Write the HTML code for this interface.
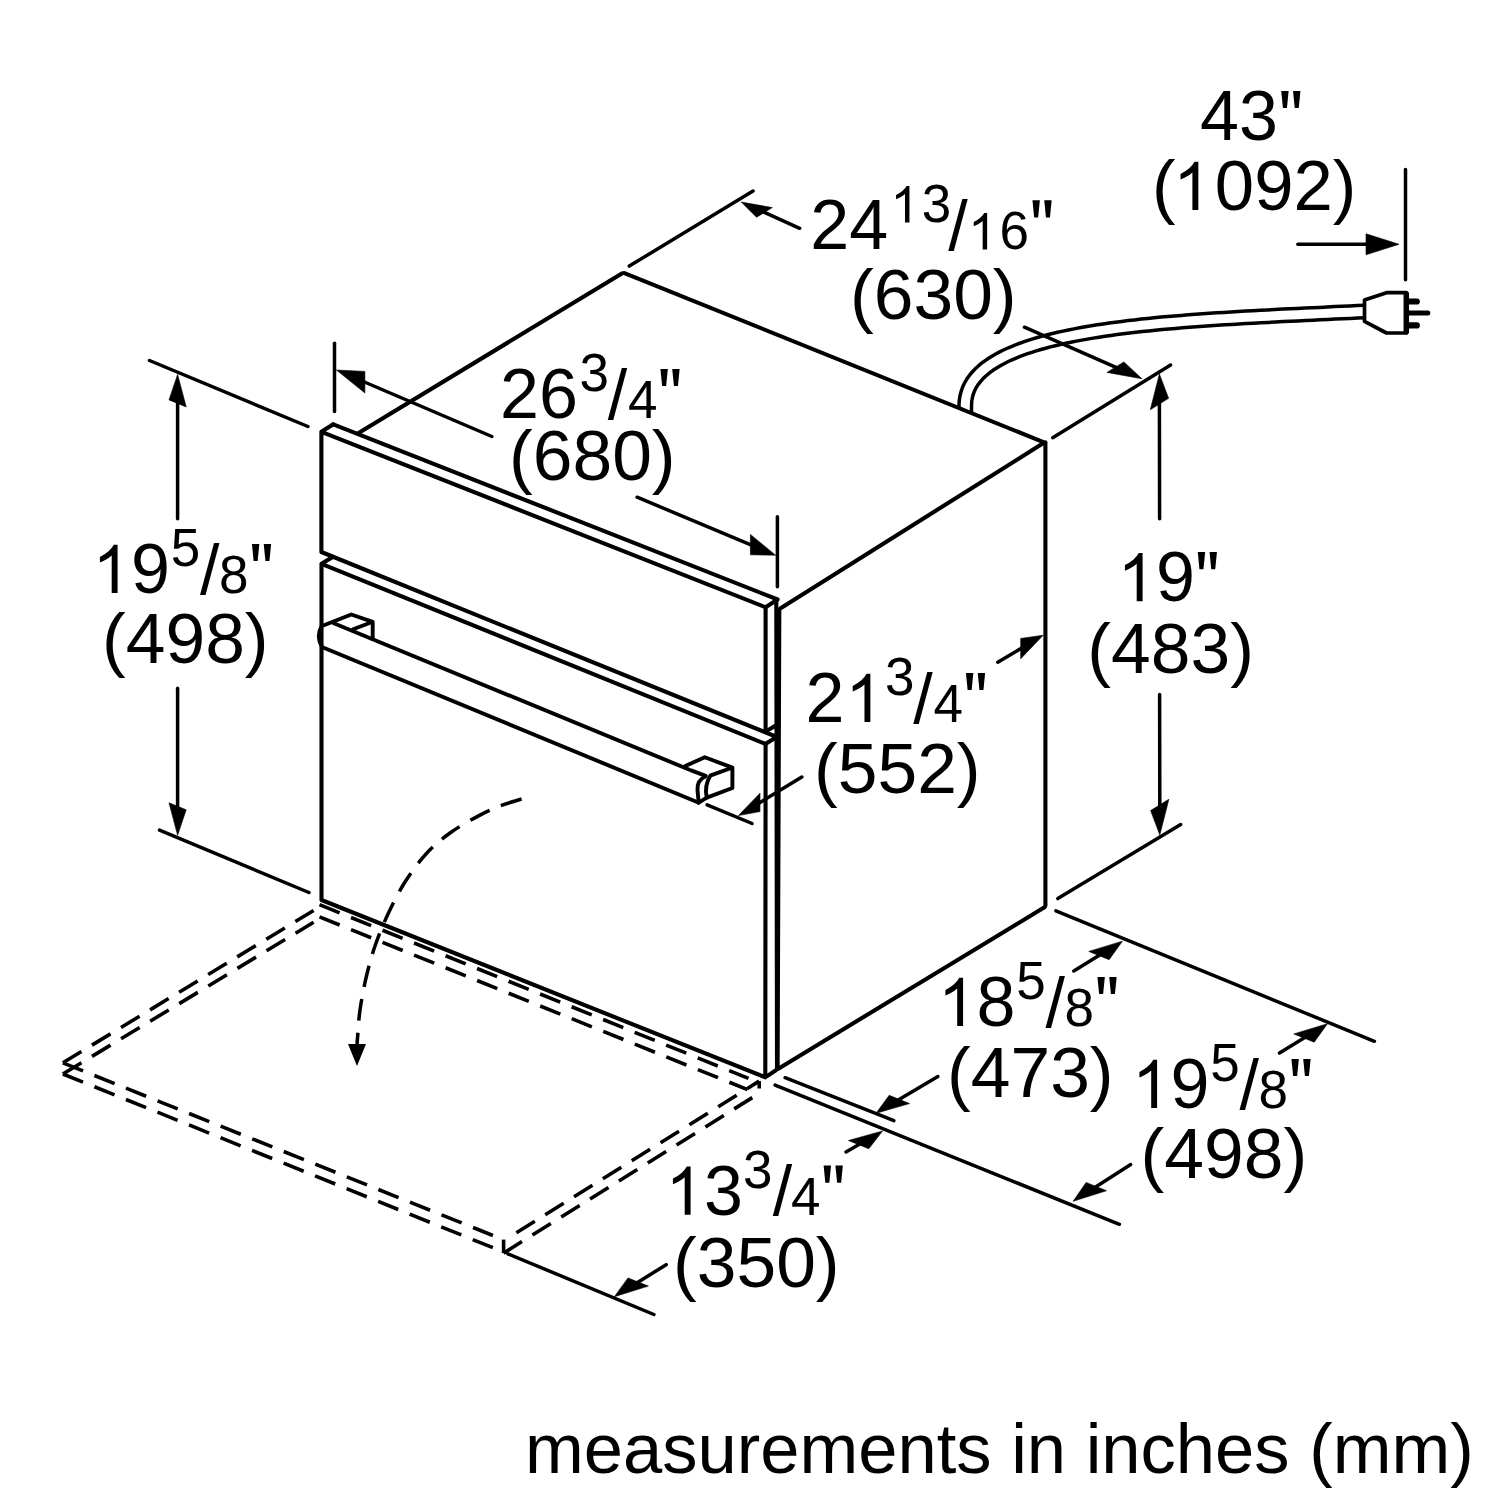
<!DOCTYPE html>
<html><head><meta charset="utf-8"><title>Dimensions</title>
<style>
html,body{margin:0;padding:0;background:#fff;}
body{width:1500px;height:1500px;overflow:hidden;}
svg{display:block;}
svg line,svg path{stroke:#000;fill:none;stroke-linecap:round;stroke-linejoin:round;}
svg text{font-family:"Liberation Sans",sans-serif;fill:#000;}
</style></head><body>
<svg width="1500" height="1500" viewBox="0 0 1500 1500">
<rect x="0" y="0" width="1500" height="1500" fill="#fff"/>
<path d="M959.0 408.5 L959.0 406.0 L959.1 402.7 L959.4 399.5 L959.9 396.3 L960.6 393.3 L961.5 390.3 L962.5 387.4 L963.8 384.5 L965.2 381.8 L966.8 379.1 L968.6 376.5 L970.6 373.9 L972.7 371.5 L975.0 369.1 L977.5 366.7 L980.1 364.4 L982.9 362.2 L985.9 360.1 L989.0 358.0 L992.3 356.0 L995.7 354.0 L999.2 352.1 L1002.9 350.3 L1006.8 348.5 L1010.8 346.8 L1014.9 345.1 L1019.1 343.5 L1023.5 341.9 L1028.0 340.4 L1032.7 338.9 L1037.4 337.5 L1042.3 336.1 L1047.3 334.8 L1052.4 333.5 L1057.6 332.3 L1063.0 331.1 L1068.4 330.0 L1074.0 328.9 L1079.6 327.8 L1085.3 326.8 L1091.2 325.8 L1097.1 324.8 L1103.1 323.9 L1109.2 323.0 L1115.4 322.2 L1121.7 321.4 L1128.1 320.6 L1134.5 319.9 L1141.0 319.1 L1147.6 318.4 L1154.2 317.8 L1160.9 317.1 L1167.7 316.5 L1174.5 315.9 L1181.4 315.4 L1188.4 314.8 L1195.4 314.3 L1202.4 313.8 L1209.5 313.3 L1216.7 312.8 L1223.8 312.4 L1231.1 311.9 L1238.3 311.5 L1245.6 311.1 L1252.9 310.7 L1260.3 310.3 L1267.6 309.9 L1275.0 309.5 L1282.4 309.1 L1289.9 308.8 L1297.3 308.4 L1304.8 308.1 L1312.2 307.7 L1319.7 307.4 L1327.2 307.0 L1334.7 306.6 L1342.1 306.3 L1349.6 305.9 L1357.1 305.6 L1364.5 305.2" stroke-width="3.5" stroke-linejoin="round" style="stroke-linecap:butt"/>
<path d="M971.5 413.5 L971.5 406.4 L971.6 403.5 L971.8 401.0 L972.2 398.7 L972.7 396.4 L973.3 394.2 L974.1 392.1 L975.0 390.0 L976.1 387.9 L977.3 385.9 L978.7 383.8 L980.3 381.8 L982.0 379.9 L983.8 377.9 L985.9 376.0 L988.1 374.1 L990.5 372.2 L993.0 370.3 L995.8 368.5 L998.7 366.7 L1001.7 365.0 L1005.0 363.2 L1008.3 361.5 L1011.9 359.9 L1015.6 358.3 L1019.5 356.7 L1023.5 355.2 L1027.6 353.7 L1031.9 352.3 L1036.3 350.9 L1040.9 349.5 L1045.6 348.2 L1050.4 346.9 L1055.4 345.7 L1060.4 344.5 L1065.6 343.3 L1070.9 342.2 L1076.3 341.1 L1081.9 340.1 L1087.5 339.1 L1093.2 338.1 L1099.0 337.2 L1105.0 336.3 L1111.0 335.4 L1117.1 334.6 L1123.3 333.8 L1129.6 333.0 L1135.9 332.3 L1142.3 331.6 L1148.9 330.9 L1155.4 330.2 L1162.1 329.6 L1168.8 329.0 L1175.6 328.4 L1182.4 327.8 L1189.3 327.3 L1196.3 326.8 L1203.3 326.3 L1210.4 325.8 L1217.5 325.3 L1224.6 324.8 L1231.8 324.4 L1239.0 324.0 L1246.3 323.6 L1253.6 323.2 L1260.9 322.8 L1268.3 322.4 L1275.7 322.0 L1283.1 321.6 L1290.5 321.3 L1297.9 320.9 L1305.4 320.5 L1312.8 320.2 L1320.3 319.8 L1327.8 319.5 L1335.2 319.1 L1342.7 318.8 L1350.2 318.4 L1357.7 318.1 L1365.1 317.7" stroke-width="3.5" stroke-linejoin="round" style="stroke-linecap:butt"/>
<path d="M1364.5 300.0 L1386.5 292.7 L1406.3 292.7 L1406.3 333.0 L1386.5 333.0 L1364.5 321.3 Z" stroke-width="3.7" />
<line x1="1406.3" y1="293.9" x2="1406.3" y2="331.8" stroke-width="5.5" />
<line x1="1409.2" y1="301.5" x2="1416.8" y2="301.5" stroke-width="6.2" stroke-linecap="round"/>
<line x1="1409.2" y1="313.0" x2="1427.8" y2="313.0" stroke-width="5.0" stroke-linecap="round"/>
<line x1="1409.2" y1="325.4" x2="1416.8" y2="325.4" stroke-width="6.2" stroke-linecap="round"/>
<line x1="357.7" y1="433.4" x2="622.3" y2="273.3" stroke-width="4.1" />
<line x1="624.4" y1="273.1" x2="1043.4" y2="442.1" stroke-width="4.1" />
<line x1="781.0" y1="607.9" x2="1043.5" y2="443.1" stroke-width="4.1" />
<line x1="1045.4" y1="442.2" x2="1045.4" y2="905.8" stroke-width="4.1" />
<line x1="1044.5" y1="907.3" x2="778.3" y2="1068.7" stroke-width="4.1" />
<path d="M333.3 424.3 L321.4 431.8 L321.4 552.0 L765.6 732.4 L765.6 607.3 L321.4 431.8" stroke-width="4.1" />
<line x1="766.7" y1="732.9" x2="774.4" y2="736.0" stroke-width="4.1" />
<path d="M333.3 424.3 L777.6 599.5 L765.6 607.3" stroke-width="4.1" />
<line x1="776.3" y1="601.2" x2="777.0" y2="1068.1" stroke-width="4.1" />
<line x1="779.3" y1="609.2" x2="777.6" y2="1068.1" stroke-width="4.1" />
<line x1="766.6" y1="730.9" x2="774.5" y2="726.2" stroke-width="4.1" />
<path d="M332.7 557.0 L321.5 563.8 L321.5 900.0 L765.3 1077.3 L765.6 744.0 L321.5 563.8" stroke-width="4.1" />
<line x1="766.6" y1="743.3" x2="773.8" y2="738.7" stroke-width="4.1" />
<line x1="766.3" y1="1076.6" x2="776.3" y2="1070.0" stroke-width="4.1" />
<line x1="333.8" y1="623.2" x2="688.9" y2="769.5" stroke-width="3.9" />
<line x1="323.1" y1="647.5" x2="697.6" y2="802.2" stroke-width="3.9" />
<path d="M322 625.5 Q315.5 636 322 647" stroke-width="3.9" />
<path d="M322.0 626.0 L351.3 614.5 L372.7 621.8 L372.7 638.9" stroke-width="3.9" />
<line x1="371.6" y1="622.2" x2="353.1" y2="629.3" stroke-width="3.9" />
<path d="M685.3 766.0 L704.8 757.2 L732.4 767.6 L732.4 788.0 L706.8 797.6 L698.7 802.7" stroke-width="3.9" />
<line x1="731.3" y1="768.0" x2="711.5" y2="775.2" stroke-width="3.9" />
<path d="M710.4 775.6 Q704 786 706.8 797.6" stroke-width="3.9" />
<path d="M705.5 776.5 Q697 780 697.5 790 L698.7 802.7" stroke-width="3.9" />
<line x1="691.1" y1="770.4" x2="705.7" y2="775.9" stroke-width="3.9" />
<line x1="62.9" y1="1062.8" x2="313.6" y2="910.5" stroke-width="3.6" stroke-dasharray="21.7 12.3" style="stroke-linecap:butt"/>
<line x1="62.9" y1="1074.0" x2="313.6" y2="922.3" stroke-width="3.6" stroke-dasharray="21.7 12.3" style="stroke-linecap:butt"/>
<line x1="62.9" y1="1062.8" x2="492.9" y2="1235.5" stroke-width="3.6" stroke-dasharray="21.7 12.3" style="stroke-linecap:butt"/>
<line x1="62.9" y1="1074.0" x2="492.9" y2="1247.7" stroke-width="3.6" stroke-dasharray="21.7 12.3" style="stroke-linecap:butt"/>
<line x1="319.5" y1="904.7" x2="748.5" y2="1078.4" stroke-width="3.6" stroke-dasharray="21.7 12.3" style="stroke-linecap:butt"/>
<line x1="319.5" y1="916.9" x2="747.5" y2="1089.6" stroke-width="3.6" stroke-dasharray="21.7 12.3" style="stroke-linecap:butt"/>
<line x1="516.4" y1="1232.8" x2="759.2" y2="1081.1" stroke-width="3.6" stroke-dasharray="21.7 12.3" style="stroke-linecap:butt"/>
<line x1="503.6" y1="1253.1" x2="752.3" y2="1097.6" stroke-width="3.6" stroke-dasharray="21.7 12.3" style="stroke-linecap:butt"/>
<line x1="503.6" y1="1239.6" x2="503.6" y2="1253.1" stroke-width="3.6" style="stroke-linecap:butt"/>
<line x1="759.2" y1="1081.1" x2="759.2" y2="1088.5" stroke-width="3.6" style="stroke-linecap:butt"/>
<path d="M521.6 799.0 C518.0 800.2 507.1 803.2 500.0 806.0 C492.9 808.8 487.3 811.1 479.0 815.6 C470.7 820.1 458.8 826.6 450.0 833.0 C441.2 839.4 433.5 845.8 426.0 854.0 C418.5 862.2 411.3 872.0 405.0 882.0 C398.7 892.0 393.0 903.3 388.0 914.0 C383.0 924.7 378.7 935.3 375.0 946.0 C371.3 956.7 368.5 967.3 366.0 978.0 C363.5 988.7 361.3 1001.0 360.0 1010.0 C358.7 1019.0 358.5 1026.3 358.0 1032.0 C357.5 1037.7 357.2 1042.0 357.0 1044.0" stroke-width="3.5" stroke-dasharray="21.7 12.3" style="stroke-linecap:butt"/>
<polygon points="357,1066 348,1044 366,1044" fill="#000" stroke="none"/>
<line x1="149.5" y1="360.5" x2="307.9" y2="426.5" stroke-width="3.5" />
<line x1="159.5" y1="830.1" x2="308.9" y2="892.5" stroke-width="3.5" />
<polygon points="177.6,374.4 186.2,406.9 169.0,399.9" fill="#000" stroke="#000" stroke-width="0.6" stroke-linejoin="round"/>
<line x1="177.6" y1="518.8" x2="177.6" y2="401.6" stroke-width="3.5" />
<polygon points="177.6,835.3 186.2,809.8 169.0,802.8" fill="#000" stroke="#000" stroke-width="0.6" stroke-linejoin="round"/>
<line x1="177.6" y1="688.2" x2="177.6" y2="808.1" stroke-width="3.5" />
<line x1="334.5" y1="343.2" x2="334.5" y2="411.6" stroke-width="3.5" />
<polygon points="336.4,370.0 364.9,393.0 364.9,371.4" fill="#000" stroke="#000" stroke-width="0.6" stroke-linejoin="round"/>
<line x1="491.9" y1="436.5" x2="363.2" y2="381.5" stroke-width="3.5" />
<line x1="777.4" y1="516.8" x2="777.4" y2="586.8" stroke-width="3.5" />
<polygon points="775.6,555.2 750.4,554.8 750.4,534.4" fill="#000" stroke="#000" stroke-width="0.6" stroke-linejoin="round"/>
<line x1="637.1" y1="497.2" x2="752.1" y2="545.3" stroke-width="3.5" />
<line x1="629.3" y1="266.1" x2="753.0" y2="191.0" stroke-width="3.5" />
<polygon points="741.2,202.0 772.3,207.6 756.6,217.3" fill="#000" stroke="#000" stroke-width="0.6" stroke-linejoin="round"/>
<line x1="799.7" y1="228.3" x2="762.8" y2="211.7" stroke-width="3.5" />
<line x1="1052.7" y1="437.7" x2="1170.6" y2="365.0" stroke-width="3.5" />
<polygon points="1142.0,378.8 1123.9,361.9 1106.9,372.4" fill="#000" stroke="#000" stroke-width="0.6" stroke-linejoin="round"/>
<line x1="1024.4" y1="327.2" x2="1117.1" y2="367.9" stroke-width="3.5" />
<line x1="1405.5" y1="169.5" x2="1405.5" y2="279.8" stroke-width="3.5" />
<polygon points="1399.0,244.3 1366.0,254.8 1366.0,233.8" fill="#000" stroke="#000" stroke-width="0.6" stroke-linejoin="round"/>
<line x1="1297.9" y1="244.3" x2="1367.8" y2="244.3" stroke-width="3.5" />
<polygon points="1159.4,374.0 1168.6,398.3 1150.3,409.7" fill="#000" stroke="#000" stroke-width="0.6" stroke-linejoin="round"/>
<line x1="1159.6" y1="518.8" x2="1159.4" y2="402.2" stroke-width="3.5" />
<polygon points="1159.8,834.9 1168.9,799.2 1150.6,810.6" fill="#000" stroke="#000" stroke-width="0.6" stroke-linejoin="round"/>
<line x1="1159.6" y1="694.5" x2="1159.8" y2="806.7" stroke-width="3.5" />
<line x1="1057.8" y1="898.6" x2="1180.7" y2="824.6" stroke-width="3.5" />
<polygon points="1043.2,635.2 1020.7,658.8 1020.7,638.4" fill="#000" stroke="#000" stroke-width="0.6" stroke-linejoin="round"/>
<line x1="997.8" y1="662.2" x2="1022.2" y2="647.7" stroke-width="3.5" />
<polygon points="738.4,815.6 760.0,811.6 760.0,793.2" fill="#000" stroke="#000" stroke-width="0.6" stroke-linejoin="round"/>
<line x1="801.8" y1="777.0" x2="758.5" y2="803.4" stroke-width="3.5" />
<line x1="707.1" y1="804.9" x2="752.1" y2="823.5" stroke-width="3.5" />
<line x1="1055.9" y1="910.9" x2="1374.4" y2="1041.3" stroke-width="3.5" />
<polygon points="1122.4,941.2 1109.1,959.7 1088.8,951.4" fill="#000" stroke="#000" stroke-width="0.6" stroke-linejoin="round"/>
<line x1="1073.8" y1="971.0" x2="1100.5" y2="954.6" stroke-width="3.5" />
<line x1="785.1" y1="1077.7" x2="893.9" y2="1120.6" stroke-width="3.5" />
<polygon points="876.0,1113.3 909.6,1103.6 889.2,1095.3" fill="#000" stroke="#000" stroke-width="0.6" stroke-linejoin="round"/>
<line x1="937.9" y1="1076.6" x2="897.8" y2="1100.3" stroke-width="3.5" />
<polygon points="1327.5,1023.7 1314.2,1042.2 1293.8,1033.9" fill="#000" stroke="#000" stroke-width="0.6" stroke-linejoin="round"/>
<line x1="1279.5" y1="1053.0" x2="1305.6" y2="1037.1" stroke-width="3.5" />
<line x1="775.1" y1="1085.1" x2="1119.4" y2="1224.3" stroke-width="3.5" />
<polygon points="1073.1,1201.3 1106.5,1190.7 1086.1,1182.4" fill="#000" stroke="#000" stroke-width="0.6" stroke-linejoin="round"/>
<line x1="1130.7" y1="1164.6" x2="1094.8" y2="1187.5" stroke-width="3.5" />
<polygon points="882.5,1131.0 868.8,1148.8 848.4,1140.5" fill="#000" stroke="#000" stroke-width="0.6" stroke-linejoin="round"/>
<line x1="846.0" y1="1151.9" x2="860.2" y2="1143.8" stroke-width="3.5" />
<line x1="507.8" y1="1253.8" x2="653.9" y2="1314.5" stroke-width="3.5" />
<polygon points="614.4,1296.7 648.4,1286.1 628.0,1277.9" fill="#000" stroke="#000" stroke-width="0.6" stroke-linejoin="round"/>
<line x1="666.2" y1="1264.7" x2="636.7" y2="1282.9" stroke-width="3.5" />
<text x="0" y="0" font-size="70" transform="translate(1200.00 140.00) scale(1.0 1)">43</text>
<polygon points="1281.24,90.88 1288.64,90.88 1286.94,108.08 1282.94,108.08" fill="#000" stroke="none"/>
<polygon points="1293.04,90.88 1300.44,90.88 1298.74,108.08 1294.74,108.08" fill="#000" stroke="none"/>
<text x="0" y="0" font-size="70" transform="translate(1152.00 210.00) scale(1.01 1)">(</text>
<path d="M763 0L583 0L583 1147Q518 1085 412.5 1023Q307 961 223 930L223 1104Q374 1175 487 1276Q600 1377 647 1472L763 1472Z" transform="translate(1173.14 210.00) scale(0.03304 -0.03272)" style="fill:#000;stroke:none"/>
<text x="0" y="0" font-size="70" transform="translate(1214.85 210.00) scale(1.01 1)">092)</text>
<text x="0" y="0" font-size="70" transform="translate(810.30 249.40) scale(1.0 1)">24</text>
<path d="M763 0L583 0L583 1147Q518 1085 412.5 1023Q307 961 223 930L223 1104Q374 1175 487 1276Q600 1377 647 1472L763 1472Z" transform="translate(890.54 222.40) scale(0.02477 -0.02477)" style="fill:#000;stroke:none"/>
<text x="0" y="0" font-size="53" transform="translate(921.81 222.40) scale(1.0 1)">3</text>
<text x="0" y="0" font-size="70" transform="translate(948.28 249.90) scale(1.0 1)">/</text>
<path d="M763 0L583 0L583 1147Q518 1085 412.5 1023Q307 961 223 930L223 1104Q374 1175 487 1276Q600 1377 647 1472L763 1472Z" transform="translate(968.22 249.40) scale(0.02477 -0.02477)" style="fill:#000;stroke:none"/>
<text x="0" y="0" font-size="53" transform="translate(999.49 249.40) scale(1.0 1)">6</text>
<polygon points="1032.46,200.28 1039.86,200.28 1038.16,217.48 1034.16,217.48" fill="#000" stroke="none"/>
<polygon points="1044.26,200.28 1051.66,200.28 1049.96,217.48 1045.96,217.48" fill="#000" stroke="none"/>
<text x="0" y="0" font-size="70" transform="translate(850.00 319.00) scale(1.02 1)">(630)</text>
<text x="0" y="0" font-size="70" transform="translate(500.00 418.00) scale(1.0 1)">26</text>
<text x="0" y="0" font-size="53" transform="translate(579.54 391.00) scale(1.0 1)">3</text>
<text x="0" y="0" font-size="70" transform="translate(607.76 418.50) scale(1.0 1)">/</text>
<text x="0" y="0" font-size="53" transform="translate(627.96 418.00) scale(1.0 1)">4</text>
<polygon points="660.43,368.88 667.83,368.88 666.13,386.08 662.13,386.08" fill="#000" stroke="none"/>
<polygon points="672.23,368.88 679.63,368.88 677.93,386.08 673.93,386.08" fill="#000" stroke="none"/>
<text x="0" y="0" font-size="70" transform="translate(509.00 479.50) scale(1.02 1)">(680)</text>
<path d="M763 0L583 0L583 1147Q518 1085 412.5 1023Q307 961 223 930L223 1104Q374 1175 487 1276Q600 1377 647 1472L763 1472Z" transform="translate(92.62 593.00) scale(0.03272 -0.03272)" style="fill:#000;stroke:none"/>
<text x="0" y="0" font-size="70" letter-spacing="-3" transform="translate(130.92 593.00) scale(1.0 1)">9</text>
<text x="0" y="0" font-size="53" transform="translate(170.74 566.00) scale(1.0 1)">5</text>
<text x="0" y="0" font-size="70" transform="translate(199.91 593.50) scale(1.0 1)">/</text>
<text x="0" y="0" font-size="53" transform="translate(219.06 593.00) scale(1.0 1)">8</text>
<polygon points="251.93,543.88 259.33,543.88 257.63,561.08 253.63,561.08" fill="#000" stroke="none"/>
<polygon points="263.73,543.88 271.13,543.88 269.43,561.08 265.43,561.08" fill="#000" stroke="none"/>
<text x="0" y="0" font-size="70" transform="translate(102.00 663.00) scale(1.02 1)">(498)</text>
<path d="M763 0L583 0L583 1147Q518 1085 412.5 1023Q307 961 223 930L223 1104Q374 1175 487 1276Q600 1377 647 1472L763 1472Z" transform="translate(1117.62 601.20) scale(0.03272 -0.03272)" style="fill:#000;stroke:none"/>
<text x="0" y="0" font-size="70" letter-spacing="-3" transform="translate(1155.92 601.20) scale(1.0 1)">9</text>
<polygon points="1197.74,552.08 1205.14,552.08 1203.44,569.28 1199.44,569.28" fill="#000" stroke="none"/>
<polygon points="1209.54,552.08 1216.94,552.08 1215.24,569.28 1211.24,569.28" fill="#000" stroke="none"/>
<text x="0" y="0" font-size="70" transform="translate(1087.30 672.60) scale(1.02 1)">(483)</text>
<text x="0" y="0" font-size="70" transform="translate(805.50 722.00) scale(1.0 1)">2</text>
<path d="M763 0L583 0L583 1147Q518 1085 412.5 1023Q307 961 223 930L223 1104Q374 1175 487 1276Q600 1377 647 1472L763 1472Z" transform="translate(845.40 722.00) scale(0.03272 -0.03272)" style="fill:#000;stroke:none"/>
<text x="0" y="0" font-size="53" transform="translate(885.04 695.00) scale(1.0 1)">3</text>
<text x="0" y="0" font-size="70" transform="translate(913.26 722.50) scale(1.0 1)">/</text>
<text x="0" y="0" font-size="53" transform="translate(933.46 722.00) scale(1.0 1)">4</text>
<polygon points="965.93,672.88 973.33,672.88 971.63,690.08 967.63,690.08" fill="#000" stroke="none"/>
<polygon points="977.73,672.88 985.13,672.88 983.43,690.08 979.43,690.08" fill="#000" stroke="none"/>
<text x="0" y="0" font-size="70" transform="translate(814.00 793.00) scale(1.02 1)">(552)</text>
<path d="M763 0L583 0L583 1147Q518 1085 412.5 1023Q307 961 223 930L223 1104Q374 1175 487 1276Q600 1377 647 1472L763 1472Z" transform="translate(938.12 1026.00) scale(0.03272 -0.03272)" style="fill:#000;stroke:none"/>
<text x="0" y="0" font-size="70" letter-spacing="-3" transform="translate(976.42 1026.00) scale(1.0 1)">8</text>
<text x="0" y="0" font-size="53" transform="translate(1016.24 999.00) scale(1.0 1)">5</text>
<text x="0" y="0" font-size="70" transform="translate(1045.41 1026.50) scale(1.0 1)">/</text>
<text x="0" y="0" font-size="53" transform="translate(1064.56 1026.00) scale(1.0 1)">8</text>
<polygon points="1097.43,976.88 1104.83,976.88 1103.13,994.08 1099.13,994.08" fill="#000" stroke="none"/>
<polygon points="1109.23,976.88 1116.63,976.88 1114.93,994.08 1110.93,994.08" fill="#000" stroke="none"/>
<text x="0" y="0" font-size="70" transform="translate(947.00 1096.70) scale(1.02 1)">(473)</text>
<path d="M763 0L583 0L583 1147Q518 1085 412.5 1023Q307 961 223 930L223 1104Q374 1175 487 1276Q600 1377 647 1472L763 1472Z" transform="translate(1132.12 1108.00) scale(0.03272 -0.03272)" style="fill:#000;stroke:none"/>
<text x="0" y="0" font-size="70" letter-spacing="-3" transform="translate(1170.42 1108.00) scale(1.0 1)">9</text>
<text x="0" y="0" font-size="53" transform="translate(1210.24 1081.00) scale(1.0 1)">5</text>
<text x="0" y="0" font-size="70" transform="translate(1239.41 1108.50) scale(1.0 1)">/</text>
<text x="0" y="0" font-size="53" transform="translate(1258.56 1108.00) scale(1.0 1)">8</text>
<polygon points="1291.43,1058.88 1298.83,1058.88 1297.13,1076.08 1293.13,1076.08" fill="#000" stroke="none"/>
<polygon points="1303.23,1058.88 1310.63,1058.88 1308.93,1076.08 1304.93,1076.08" fill="#000" stroke="none"/>
<text x="0" y="0" font-size="70" transform="translate(1140.60 1178.00) scale(1.02 1)">(498)</text>
<path d="M763 0L583 0L583 1147Q518 1085 412.5 1023Q307 961 223 930L223 1104Q374 1175 487 1276Q600 1377 647 1472L763 1472Z" transform="translate(665.62 1214.70) scale(0.03272 -0.03272)" style="fill:#000;stroke:none"/>
<text x="0" y="0" font-size="70" letter-spacing="-3" transform="translate(703.92 1214.70) scale(1.0 1)">3</text>
<text x="0" y="0" font-size="53" transform="translate(743.04 1187.70) scale(1.0 1)">3</text>
<text x="0" y="0" font-size="70" transform="translate(772.76 1215.20) scale(1.0 1)">/</text>
<text x="0" y="0" font-size="53" transform="translate(790.96 1214.70) scale(1.0 1)">4</text>
<polygon points="823.63,1165.58 831.03,1165.58 829.33,1182.78 825.33,1182.78" fill="#000" stroke="none"/>
<polygon points="835.43,1165.58 842.83,1165.58 841.13,1182.78 837.13,1182.78" fill="#000" stroke="none"/>
<text x="0" y="0" font-size="70" transform="translate(673.00 1286.50) scale(1.02 1)">(350)</text>
<text x="0" y="0" font-size="70.55" transform="translate(525.00 1472.70) scale(1.0 1)">measurements in inches (mm)</text>
</svg>
</body></html>
